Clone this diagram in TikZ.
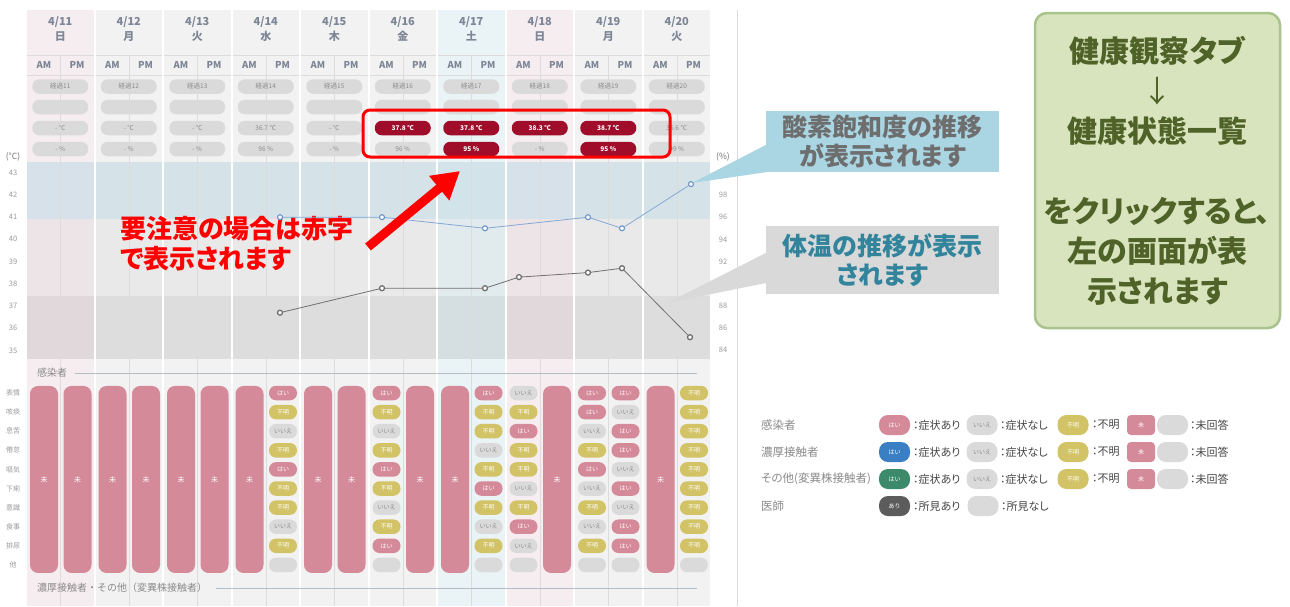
\documentclass[tikz,border=0pt]{standalone}
\usepackage{fontspec}
\setmainfont{Noto Sans CJK JP}
\newfontfamily\jpp[RawFeature=+palt]{Noto Sans CJK JP}
\usetikzlibrary{arrows.meta}
\definecolor{colday}{HTML}{F2F2F2}
\definecolor{colsun}{HTML}{F6EDF0}
\definecolor{colsat}{HTML}{EAF3F6}
\definecolor{bandhi}{HTML}{CCDEE7}
\definecolor{linegrey}{HTML}{DCDCDC}
\definecolor{pillgrey}{HTML}{DADADA}
\definecolor{txtgrey}{HTML}{8A8A8A}
\definecolor{axgrey}{HTML}{9A9A9A}
\definecolor{headtxt}{HTML}{7D8696}
\definecolor{alertred}{HTML}{A00D2B}
\definecolor{yespink}{HTML}{D48A98}
\definecolor{unkyellow}{HTML}{D2C366}
\definecolor{yesblue}{HTML}{3A7EC4}
\definecolor{yesgreen}{HTML}{3C8A6B}
\definecolor{findgrey}{HTML}{5C5C5C}
\definecolor{spoblue}{HTML}{86A7D4}
\definecolor{spodot}{HTML}{6A92C6}
\definecolor{tempgrey}{HTML}{707070}
\definecolor{callblue}{HTML}{AAD6E4}
\definecolor{callgrey}{HTML}{D9D9D9}
\definecolor{calltxtgrey}{HTML}{6E6E6E}
\definecolor{calltxtteal}{HTML}{31849B}
\definecolor{notegreen}{HTML}{D8E4BD}
\definecolor{noteedge}{HTML}{A8C48C}
\definecolor{notetxt}{HTML}{4F6228}
\definecolor{markred}{HTML}{FF0000}
\definecolor{secline}{HTML}{B4BCC4}
\definecolor{legdark}{HTML}{444444}
\newcommand\symtxtY{はい}
\newcommand\symtxtN{いいえ}
\newcommand\symtxtQ{不明}
\newcommand\symtxtB{}
\newcommand\symtxtU{未}
\begin{document}
\begin{tikzpicture}[x=1pt,y=-1pt,
    gridline/.style={draw=linegrey, line width=0.5pt},
    datelab/.style={align=center, inner sep=0, text=headtxt, font=\bfseries\fontsize{11}{15}\selectfont},
    ampm/.style={inner sep=0, text=headtxt, font=\bfseries\fontsize{9.5}{10}\selectfont},
    hpill/.style={rectangle, rounded corners=7, fill=pillgrey, minimum width=56, minimum height=14.5, inner sep=0, text=txtgrey, font=\fontsize{6.5}{7}\selectfont},
    rpill/.style={hpill, fill=alertred, text=white, font=\bfseries\fontsize{6.5}{7}\selectfont},
    sympill/.style={rectangle, rounded corners=7, minimum width=28, minimum height=14.5, inner sep=0, text=white, font=\fontsize{6}{6}\selectfont},
    symY/.style={sympill, fill=yespink},
    symQ/.style={sympill, fill=unkyellow},
    symN/.style={sympill, fill=pillgrey, text=txtgrey},
    symB/.style={sympill, fill=pillgrey},
    symU/.style={rectangle, rounded corners=8, fill=yespink, minimum width=28, minimum height=187, anchor=north, yshift=7.25pt, inner sep=0, text=white, font=\fontsize{7}{7}\selectfont},
    axlab/.style={inner sep=0, text=axgrey, font=\fontsize{7.5}{8}\selectfont},
    seclab/.style={anchor=west, inner sep=0, text=txtgrey, font=\fontsize{10}{11}\selectfont},
    tdot/.style={circle, draw=tempgrey, fill=white, line width=1.3pt, minimum size=5, inner sep=0},
    sdot/.style={circle, draw=spodot, fill=white, line width=1.1pt, minimum size=5, inner sep=0},
    callbox/.style={rectangle, minimum width=233, inner sep=0, align=center, font=\jpp\bfseries\fontsize{25}{29}\selectfont},
    bigarrow/.style={markred, line width=9pt, -{Triangle[length=27pt,width=30pt]}},
    lglab/.style={anchor=west, inner sep=0, text=txtgrey, font=\jpp\fontsize{11.5}{12}\selectfont},
    lgtxt/.style={anchor=west, inner sep=0, text=legdark, font=\jpp\fontsize{11}{12}\selectfont},
    lgpill/.style={rectangle, rounded corners=9, minimum width=31, minimum height=20, inner sep=0, text=white, font=\fontsize{6}{6}\selectfont}]
  \useasboundingbox (0,0) rectangle (1290,606);
  \fill[white] (0,0) rectangle (1290,606);
  % day columns
  \foreach \d/\wday/\tint/\tmp/\tst/\spo/\sst/\am/\pm [count=\i from 0] in {
      11/日/colsun/{- ℃}/hpill/{- \%}/hpill/U/U,
      12/月/colday/{- ℃}/hpill/{- \%}/hpill/U/U,
      13/火/colday/{- ℃}/hpill/{- \%}/hpill/U/U,
      14/水/colday/{36.7 ℃}/hpill/{96 \%}/hpill/U/{Y,Q,N,Q,Y,Q,Q,N,Q,B},
      15/木/colday/{- ℃}/hpill/{- \%}/hpill/U/U,
      16/金/colday/{37.8 ℃}/rpill/{96 \%}/hpill/{Y,Q,N,Q,Y,Q,N,Q,Y,B}/U,
      17/土/colsat/{37.8 ℃}/rpill/{95 \%}/rpill/U/{Y,Q,Q,N,Q,Y,Q,N,Q,B},
      18/日/colsun/{38.3 ℃}/rpill/{- \%}/hpill/{N,Q,Y,Q,Q,N,Q,Y,N,B}/U,
      19/月/colday/{38.7 ℃}/rpill/{95 \%}/rpill/{Y,Y,N,Q,Y,N,Q,N,Q,B}/{Y,N,Y,Y,N,Y,N,Y,Y,B},
      20/火/colday/{35.6 ℃}/hpill/{99 \%}/hpill/U/{Q,Q,Q,Q,Q,Q,Q,Q,Q,B}} {
    \pgfmathsetmacro\xs{27+68.5*\i}
    \pgfmathsetmacro\xc{\xs+33.25}
    \fill[\tint] (\xs,10) rectangle ++(66.5,596);
    \fill[bandhi, fill opacity=0.75] (\xs,162) rectangle ++(66.5,57);
    \fill[black, fill opacity=0.035] (\xs,219) rectangle ++(66.5,77);
    \fill[black, fill opacity=0.085] (\xs,296) rectangle ++(66.5,63);
    \draw[gridline] (\xs,55) -- ++(66.5,0);
    \draw[gridline] (\xs,75) -- ++(66.5,0);
    \draw[gridline] (\xc,55) -- (\xc,606);
    \node[datelab] (date\i) at (\xc,29) {4/\d\\\wday};
    \node[ampm] (am\i) at (\xs+17,65) {AM};
    \node[ampm] (pm\i) at (\xs+50,65) {PM};
    \node[hpill] (el\i) at (\xc,86.5) {経過\d};
    \node[hpill] (bl\i) at (\xc,107) {};
    \node[\tst] (tp\i) at (\xc,128) {\tmp};
    \node[\sst] (sp\i) at (\xc,149) {\spo};
    \foreach \c [count=\r from 0] in \am {
      \node[sym\c] (sa\i-\r) at (\xs+17,393+19.1*\r) {\csname symtxt\c\endcsname};
    }
    \foreach \c [count=\r from 0] in \pm {
      \node[sym\c] (sb\i-\r) at (\xs+50.5,393+19.1*\r) {\csname symtxt\c\endcsname};
    }
  }
  % axes
  \node[axlab, text=tempgrey, font=\fontsize{8.5}{9}\selectfont] (tunit) at (13,157) {(°C)};
  \node[axlab, text=tempgrey, font=\fontsize{8.5}{9}\selectfont] (sunit) at (723,157) {(\%)};
  \foreach \v [count=\k from 0] in {43,42,...,35}
    \node[axlab] (tl\v) at (13,172.5+22.25*\k) {\v};
  \foreach \v [count=\k from 0] in {100,98,...,84}
    \node[axlab] (sl\v) at (723,173+22.12*\k) {\v};
  \foreach \t [count=\r from 0] in {表情,咳痰,息苦,倦怠,嘔気,下痢,意識,食事,排尿,他}
    \node[axlab, font=\fontsize{7}{8}\selectfont] (row\r) at (13,393+19.1*\r) {\t};
  % section labels
  \node[seclab] (secinf) at (37,373) {感染者};
  \coordinate (secinfend) at (697,373);
  \draw[secline, shorten <=8pt] (secinf.east) -- (secinfend);
  \node[seclab] (seccon) at (37,588) {濃厚接触者・その他（変異株接触者）};
  \coordinate (secconend) at (697,588);
  \draw[secline, shorten <=9pt] (seccon.east) -- (secconend);
  \draw[gridline] (737,10) -- (737,606);
  % red marking
  \node[draw=markred, line width=3pt, rounded corners=7, minimum width=307, minimum height=47] (alertbox) at (516.5,133.5) {};
  \node[anchor=west, align=left, inner sep=0, text=markred, font=\jpp\bfseries\fontsize{26}{30}\selectfont] (alerttxt) at (120,244) {要注意の場合は赤字\\で表示されます};
  % callouts
  \node[callbox, fill=callblue, text=calltxtgrey, minimum height=61] (spocall) at (882.5,141.5) {酸素飽和度の推移\\が表示されます};
  \coordinate (spotip) at (692,183);
  \fill[callblue] (spotip) -- ([yshift=-3.5pt]spocall.west) -- (spocall.south west) -- cycle;
  \node[callbox, fill=callgrey, text=calltxtteal, minimum height=68] (tmpcall) at (882.5,260) {体温の推移が表示\\されます};
  \coordinate (tmptip) at (667,303);
  \fill[callgrey] (tmptip) -- ([yshift=7pt]tmpcall.west) -- ([yshift=-23pt]tmpcall.west) -- cycle;
  % data
  \node[tdot] (t1) at (280,312.7) {};
  \node[tdot] (t2) at (382,288.2) {};
  \node[tdot] (t3) at (485,288.2) {};
  \node[tdot] (t4) at (519,277.1) {};
  \node[tdot] (t5) at (588,272.6) {};
  \node[tdot] (t6) at (622,268.2) {};
  \node[tdot] (t7) at (690,337.2) {};
  \draw[tempgrey, line width=0.8pt] (t1) -- (t2) -- (t3) -- (t4) -- (t5) -- (t6) -- (t7);
  \node[sdot] (s1) at (280,217.2) {};
  \node[sdot] (s2) at (382,217.2) {};
  \node[sdot] (s3) at (485,228.3) {};
  \node[sdot] (s4) at (588,217.2) {};
  \node[sdot] (s5) at (622,228.3) {};
  \node[sdot] (s6) at (691,184.1) {};
  \draw[spoblue, line width=0.8pt] (s1) -- (s2) -- (s3) -- (s4) -- (s5) -- (s6);
  \coordinate (arrtail) at (368,247);
  \coordinate (arrtip) at (460,171);
  \draw[bigarrow] (arrtail) -- (arrtip);
  % legend
  \foreach \grp/\yc/\ycol [count=\k] in {感染者/425/yespink, 濃厚接触者/452/yesblue, その他(変異株接触者)/479/yesgreen} {
    \node[lglab] (lg\k) at (761,\yc) {\grp};
    \node[lgpill, fill=\ycol] (lgy\k) at (894.5,\yc) {はい};
    \node[lgtxt] (lgyt\k) at (913,\yc) {：症状あり};
    \node[lgpill, fill=pillgrey, text=txtgrey] (lgn\k) at (982,\yc) {いいえ};
    \node[lgtxt] (lgnt\k) at (1000,\yc) {：症状なし};
    \node[lgpill, fill=unkyellow] (lgq\k) at (1073,\yc) {不明};
    \node[lgtxt] (lgqt\k) at (1092,\yc) {：不明};
    \node[lgpill, rounded corners=4, minimum width=28, fill=yespink] (lgu\k) at (1141,\yc) {未};
    \node[lgpill, fill=pillgrey] (lgb\k) at (1172.5,\yc) {};
    \node[lgtxt] (lgbt\k) at (1190,\yc) {：未回答};
  }
  \node[lglab] (lg4) at (761,506) {医師};
  \node[lgpill, fill=findgrey] (lga4) at (894.5,506) {あり};
  \node[lgtxt] (lgat4) at (913,506) {：所見あり};
  \node[lgpill, fill=pillgrey] (lgb4) at (983,506) {};
  \node[lgtxt] (lgbt4) at (1001,506) {：所見なし};
  % note
  \node[rectangle, rounded corners=12, fill=notegreen, draw=noteedge, line width=2.5pt, minimum width=245, minimum height=315, align=center, text=notetxt, font=\jpp\bfseries\fontsize{30}{40}\selectfont] (note) at (1157.5,170.5) {健康観察タブ\\{\mdseries ↓}\\健康状態一覧\\[40pt]をクリックすると、\\左の画面が表\\示されます};
\end{tikzpicture}
\end{document}
